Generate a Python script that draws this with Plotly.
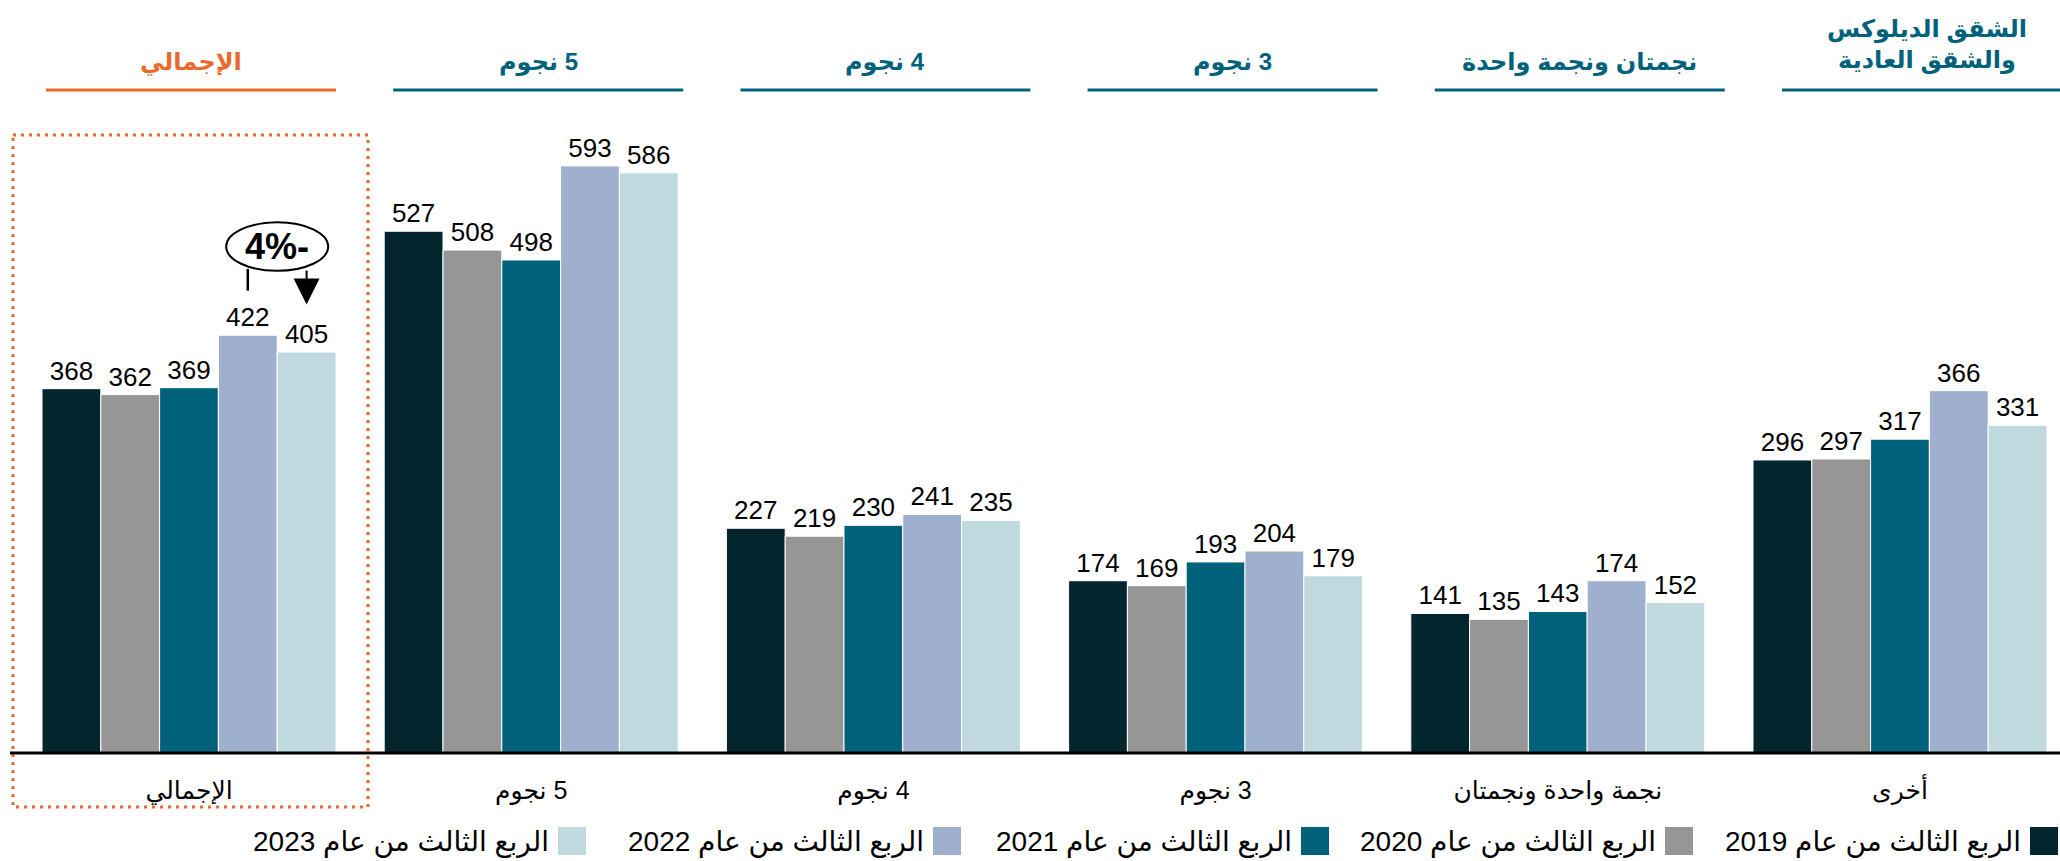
import plotly.graph_objects as go

# ---------------- data ----------------
categories = ["الإجمالي", "5 نجوم", "4 نجوم", "3 نجوم", "نجمة واحدة ونجمتان", "أخرى"]
headers = ["الإجمالي", "5 نجوم", "4 نجوم", "3 نجوم", "نجمتان ونجمة واحدة",
           "الشقق الديلوكس<br>والشقق العادية"]
series_names = ["الربع الثالث من عام 2019", "الربع الثالث من عام 2020",
                "الربع الثالث من عام 2021", "الربع الثالث من عام 2022",
                "الربع الثالث من عام 2023"]
q3_2019 = [368, 527, 227, 174, 141, 296]
q3_2020 = [362, 508, 219, 169, 135, 297]
q3_2021 = [369, 498, 230, 193, 143, 317]
q3_2022 = [422, 593, 241, 204, 174, 366]
q3_2023 = [405, 586, 235, 179, 152, 331]
change_label = "4%-"

series_values = [q3_2019, q3_2020, q3_2021, q3_2022, q3_2023]
colors = ["#02252E", "#969696", "#00627A", "#9EB0CE", "#BFD9DE"]
TEAL = "#00627A"
ORANGE = "#EA6A2E"
FONT = "Arial, 'Liberation Sans', 'DejaVu Sans', sans-serif"

W, H = 2060, 861
BASE = 753          # baseline pixel (plot bottom)
MB = H - BASE


def px(x):
    return x / W


def py(y):
    return (BASE - y) / BASE


def rtl(s):
    # right-to-left embedding: Arabic labels starting with a number
    return "\u202b" + s + "\u202c" if s[:1].isdigit() else s


fig = go.Figure()
for name, vals, col in zip(series_names, series_values, colors):
    fig.add_trace(go.Bar(
        x=categories, y=vals, name=name,
        marker=dict(color=col, line=dict(color="white", width=1)),
        text=[str(v) for v in vals], textposition="outside",
        textfont=dict(family=FONT, size=26, color="black"),
        cliponaxis=False, constraintext="none", showlegend=False,
    ))

shapes = []
annotations = []

# header titles + underline
for k, h in enumerate(headers):
    cx = 191 + 347.2 * k
    col = ORANGE if k == 0 else TEAL
    yc = 45 if "<br>" in h else 62
    annotations.append(dict(
        x=px(cx), y=py(yc), xref="paper", yref="paper",
        text="<b>" + rtl(h) + "</b>",
        showarrow=False, xanchor="center", yanchor="middle",
        font=dict(family=FONT, size=24, color=col),
    ))
    shapes.append(dict(
        type="line", xref="paper", yref="paper",
        x0=px(cx - 145), x1=min(px(cx + 145), 1.0), y0=py(90), y1=py(90),
        line=dict(color=col, width=3),
    ))

# dotted highlight box around total
shapes.append(dict(
    type="rect", xref="paper", yref="paper",
    x0=px(13), x1=px(368), y0=py(135), y1=py(807),
    line=dict(color=ORANGE, width=3, dash="3px,5px"),
))

# baseline
shapes.append(dict(
    type="line", xref="paper", yref="paper",
    x0=px(10), x1=1.0, y0=0, y1=0, line=dict(color="black", width=3),
))

# change annotation (ellipse + connectors) over total group, bars 4 and 5
bw = (1 - 0.1409) / 5
x4 = 0 + 1 * bw
x5 = 0 + 2 * bw
xm = (x4 + x5) / 2
shapes.append(dict(
    type="circle", xref="x", yref="y",
    x0=xm - 0.149, x1=xm + 0.149, y0=487, y1=536,
    line=dict(color="black", width=2), fillcolor="white",
))
shapes.append(dict(
    type="line", xref="x", yref="y", x0=x4, x1=x4, y0=467, y1=489,
    line=dict(color="black", width=2.5),
))
annotations.append(dict(
    x=x5, y=453, ax=x5, ay=489, xref="x", yref="y", axref="x", ayref="y",
    text="", showarrow=True, arrowhead=2, arrowsize=2.6, arrowwidth=2,
    arrowcolor="black",
))
annotations.append(dict(
    x=xm, y=511.5, xref="x", yref="y", text="<b>" + change_label + "</b>",
    showarrow=False, font=dict(family=FONT, size=36, color="black"),
))

# custom right-to-left legend (text left of square)
sq_left = [2030, 1665, 1301, 933, 558]
for name, col, xl in zip(series_names, colors, sq_left):
    shapes.append(dict(
        type="rect", xref="paper", yref="paper",
        x0=px(xl), x1=px(xl + 28), y0=py(855), y1=py(827),
        fillcolor=col, line=dict(width=0),
    ))
    annotations.append(dict(
        x=px(xl - 7), y=py(842), xref="paper", yref="paper", text=name,
        showarrow=False, xanchor="right", yanchor="middle",
        font=dict(family=FONT, size=28, color="black"),
    ))

fig.update_layout(
    width=W, height=H,
    margin=dict(l=0, r=0, t=0, b=MB, pad=0),
    paper_bgcolor="white", plot_bgcolor="white",
    barmode="group", bargap=0.1409, bargroupgap=0,
    showlegend=False,
    shapes=shapes, annotations=annotations,
    xaxis=dict(
        type="category", range=[-0.5523, 5.4676],
        tickvals=categories, ticktext=[rtl(c) for c in categories],
        showgrid=False, zeroline=False, showline=False, ticks="",
        tickfont=dict(family=FONT, size=25, color="black"),
        ticklabelstandoff=20,
    ),
    yaxis=dict(range=[0, 760.6], visible=False, showgrid=False, zeroline=False),
    font=dict(family=FONT),
)

# page without body margin; Arabic labels that start with a number are laid
# out right-to-left (number on the right), as in the original slide
post_js = """
document.body.style.margin = '0px';
function fixDir() {
  document.querySelectorAll('svg text').forEach(function (t) {
    var s = (t.textContent || '').replace(/[\\u200e\\u200f\\u202a-\\u202e]/g, '').trim();
    if (/^[0-9]/.test(s) && /[\\u0600-\\u06FF]/.test(s)) {
      t.setAttribute('direction', 'rtl');
      t.style.direction = 'rtl';
    }
  });
}
fixDir();
setTimeout(fixDir, 50);
setTimeout(fixDir, 300);
var gd = document.getElementById('{plot_id}');
if (gd && gd.on) { gd.on('plotly_afterplot', fixDir); }
"""

fig.write_html("out.html", config={"displayModeBar": False}, post_script=post_js)
